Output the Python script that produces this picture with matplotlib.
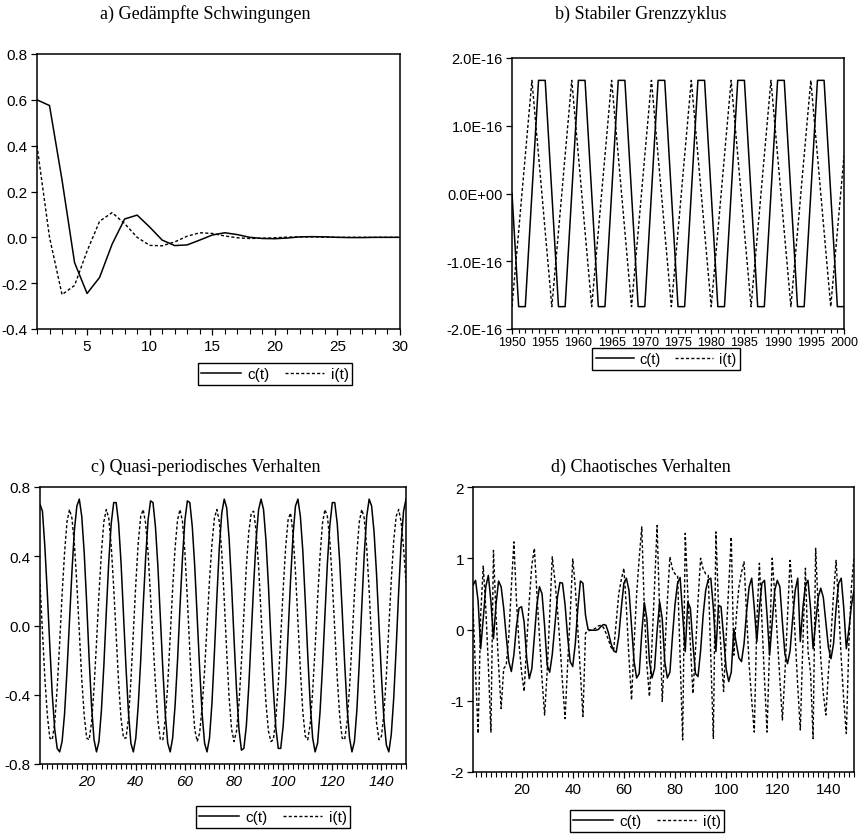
import numpy as np
import matplotlib
matplotlib.use("Agg")
import matplotlib.pyplot as plt
from matplotlib.lines import Line2D
from matplotlib.ticker import FixedLocator, MultipleLocator

plt.rcParams['font.family'] = ['Liberation Sans', 'DejaVu Sans']
plt.rcParams['axes.unicode_minus'] = False

# ---------------- data ----------------
titles = ["a) Gedämpfte Schwingungen", "b) Stabiler Grenzzyklus",
          "c) Quasi-periodisches Verhalten", "d) Chaotisches Verhalten"]
series_names = ["c(t)", "i(t)"]

# a) damped oscillations, t = 1..30
c_a = [0.60, 0.575, 0.25, -0.11, -0.245, -0.175, -0.03, 0.08, 0.097, 0.045,
       -0.012, -0.036, -0.033, -0.012, 0.01, 0.02, 0.012, 0.0, -0.005, -0.006,
       -0.003, 0.002, 0.003, 0.002, 0.0, -0.001, -0.001, 0.0, 0.0, 0.0]
i_a = [0.40, 0.0, -0.25, -0.21, -0.06, 0.07, 0.108, 0.06, 0.0, -0.035,
       -0.037, -0.02, 0.005, 0.02, 0.017, 0.006, -0.002, -0.005, -0.004, -0.002,
       0.001, 0.002, 0.002, 0.001, 0.0, 0.0, 0.0, 0.0, 0.0, 0.0]

# b) stable limit cycle, years 1950..2000, values in units of 1E-16
years_b = list(range(1950, 2001))
c_b_e16 = [0, -1.67, -1.67, 0, 1.67, 1.67, 0, -1.67, -1.67, 0, 1.67, 1.67,
           0, -1.67, -1.67, 0, 1.67, 1.67, 0, -1.67, -1.67, 0, 1.67, 1.67,
           0, -1.67, -1.67, 0, 1.67, 1.67, 0, -1.67, -1.67, 0, 1.67, 1.67,
           0, -1.67, -1.67, 0, 1.67, 1.67, 0, -1.67, -1.67, 0, 1.67, 1.67,
           0, -1.67, -1.67]
i_b_e16 = [-1.67, -0.56, 0.56, 1.67, 0.56, -0.56, -1.67, -0.56, 0.56, 1.67, 0.56, -0.56,
           -1.67, -0.56, 0.56, 1.67, 0.56, -0.56, -1.67, -0.56, 0.56, 1.67, 0.56, -0.56,
           -1.67, -0.56, 0.56, 1.67, 0.56, -0.56, -1.67, -0.56, 0.56, 1.67, 0.56, -0.56,
           -1.67, -0.56, 0.56, 1.67, 0.56, -0.56, -1.67, -0.56, 0.56, 1.67, 0.56, -0.56,
           -1.67, -0.56, 0.56]

# c) quasi-periodic, t = 1..150
c_c = [0.70, 0.66, 0.45, 0.18, -0.12, -0.40, -0.60, -0.71, -0.73,
       -0.67, -0.51, -0.26, 0.03, 0.31, 0.55, 0.69, 0.73, 0.63, 0.42, 0.13, -0.19, -0.47, -0.66, -0.73,
       -0.67, -0.49, -0.23, 0.08, 0.37, 0.59, 0.71, 0.71, 0.59, 0.36, 0.06, -0.24, -0.50, -0.68, -0.73,
       -0.65, -0.46, -0.20, 0.11, 0.39, 0.61, 0.72, 0.71, 0.57, 0.34, 0.05, -0.25, -0.51, -0.68, -0.73,
       -0.65, -0.46, -0.20, 0.11, 0.39, 0.61, 0.72, 0.71, 0.57, 0.34, 0.05, -0.25, -0.51, -0.68, -0.73,
       -0.65, -0.45, -0.16, 0.16, 0.45, 0.65, 0.73, 0.68, 0.50, 0.23, -0.08, -0.37, -0.60, -0.72,
       -0.71, -0.58, -0.35, -0.06, 0.24, 0.50, 0.67, 0.73, 0.67, 0.49, 0.23, -0.08, -0.37, -0.59, -0.71,
       -0.71, -0.58, -0.35, -0.05, 0.26, 0.52, 0.69, 0.73, 0.63, 0.43, 0.14, -0.17, -0.45, -0.65, -0.73,
       -0.68, -0.50, -0.24, 0.06, 0.36, 0.58, 0.71, 0.71, 0.59, 0.37, 0.09, -0.21, -0.47, -0.65, -0.73,
       -0.67, -0.49, -0.21, 0.11, 0.41, 0.63, 0.73, 0.69, 0.54, 0.30, 0.00, -0.29, -0.54, -0.69, -0.73,
       -0.63, -0.42, -0.13, 0.19, 0.47, 0.66, 0.73]
i_c = [0.24, -0.04, -0.31, -0.52, -0.65,
       -0.66, -0.56, -0.36, -0.10, 0.18, 0.42, 0.60, 0.67,
       0.62, 0.47, 0.24, -0.04, -0.31, -0.52, -0.65,
       -0.66, -0.56, -0.36, -0.10, 0.18, 0.42, 0.60, 0.67,
       0.62, 0.46, 0.22, -0.06, -0.33, -0.54, -0.65,
       -0.65, -0.54, -0.32, -0.04, 0.24, 0.48, 0.63,
       0.67, 0.59, 0.42, 0.17, -0.09, -0.34, -0.55, -0.66,
       -0.66, -0.54, -0.34, -0.07, 0.21, 0.45, 0.61, 0.67,
       0.60, 0.42, 0.15, -0.15, -0.42, -0.60, -0.67,
       -0.62, -0.47, -0.26, 0.00, 0.26, 0.47, 0.62, 0.67,
       0.60, 0.42, 0.15, -0.15, -0.42, -0.60, -0.67,
       -0.61, -0.45, -0.21, 0.07, 0.34, 0.54, 0.65,
       0.66, 0.54, 0.34, 0.07, -0.21, -0.45, -0.61, -0.67,
       -0.66, -0.54, -0.34, -0.07, 0.21, 0.45, 0.61,
       0.65, 0.53, 0.31, 0.03, -0.26, -0.50, -0.64,
       -0.66, -0.57, -0.38, -0.13, 0.15, 0.40, 0.59, 0.67,
       0.63, 0.49, 0.25, -0.03, -0.30, -0.52, -0.65,
       -0.66, -0.56, -0.36, -0.10, 0.18, 0.42, 0.60, 0.67,
       0.62, 0.45, 0.20, -0.09, -0.36, -0.56, -0.66,
       -0.64, -0.51, -0.29, -0.01, 0.26, 0.49, 0.63,
       0.67, 0.60, 0.45, 0.25]

# d) chaotic, t = 1..150
c_d = [0.62, 0.69, 0.40, -0.27, 0.15, 0.60, 0.76, 0.40, -0.13, 0.35,
       0.68, 0.60, 0.30, -0.10, -0.45, -0.59, -0.35, 0.05, 0.30, 0.32,
       0.10, -0.40, -0.69, -0.55, -0.10, 0.35, 0.60, 0.50, 0.05, -0.50,
       -0.60, -0.35, 0.05, 0.45, 0.66, 0.65, 0.35, -0.10, -0.45, -0.52,
       -0.20, 0.30, 0.68, 0.65, 0.20, 0.00, -0.01, -0.01, -0.01, 0.00,
       0.04, 0.07, 0.06, -0.05, -0.20, -0.30, -0.32, -0.10, 0.30, 0.65,
       0.72, 0.55, 0.05, -0.45, -0.68, -0.62, -0.05, 0.38, 0.15, -0.45,
       -0.68, -0.55, -0.02, 0.39, 0.15, -0.45, -0.68, -0.60, -0.10, 0.35,
       0.65, 0.73, 0.20, -0.31, 0.39, 0.30, -0.20, -0.62, -0.66, -0.30,
       0.20, 0.55, 0.70, 0.72, 0.30, -0.31, 0.34, 0.32, -0.10, -0.55,
       -0.73, -0.60, 0.01, -0.20, -0.40, -0.45, -0.20, 0.25, 0.60, 0.72,
       0.30, -0.17, 0.30, 0.65, 0.69, 0.20, -0.36, 0.10, 0.55, 0.69,
       0.60, 0.10, -0.35, -0.48, -0.30, 0.15, 0.55, 0.72, -0.17, 0.30,
       0.62, 0.69, 0.30, -0.27, 0.10, 0.45, 0.58, 0.45, 0.10, -0.25,
       -0.41, -0.20, 0.30, 0.65, 0.72, 0.30, -0.27, 0.00, 0.34, 0.55]
i_d = [0.30, -0.60, -1.46, 0.20, 0.89, 0.30, -0.50, -1.44, 1.11, 0.20,
       -0.50, -1.11, -0.55, -0.50, -0.10, 0.60, 1.23, 0.40, -0.20, -0.60,
       -0.87, -0.20, 0.40, 0.90, 1.14, 0.50, -0.10, -0.70, -1.20, -0.60,
       0.20, 1.02, 0.70, 0.30, -0.20, -0.75, -1.25, -0.50, 0.20, 0.99,
       0.60, 0.00, -0.60, -1.22, -0.05, -0.02, -0.01, 0.00, 0.02, 0.05,
       0.06, 0.03, -0.05, -0.15, -0.25, -0.29, 0.10, 0.50, 0.70, 0.86,
       0.30, -0.40, -0.99, -0.20, 0.50, 1.00, 1.44, 0.30, -0.50, -0.94,
       -0.20, 0.60, 1.46, 0.20, -1.01, -0.30, 0.40, 1.02, 0.85, 0.78,
       0.76, -0.40, -1.55, 1.35, 0.50, -0.20, -0.90, -0.30, 0.40, 1.00,
       0.85, 0.78, 0.76, -0.40, -1.53, 1.37, 0.34, -0.30, -0.87, -0.10,
       0.60, 1.30, -0.36, 0.20, 0.60, 0.80, 0.95, 0.20, -0.50, -1.00,
       -1.44, 0.10, 0.93, 0.10, -0.70, -1.44, -0.20, 1.00, 0.50, -0.10,
       -0.70, -1.27, -0.60, 0.20, 0.97, 0.50, -0.10, -0.80, -1.41, -0.20,
       0.86, -0.30, -0.60, -1.53, 1.14, 0.30, -0.40, -0.90, -1.20, -0.60,
       -0.10, 0.50, 0.97, 0.30, -0.40, -1.00, -1.46, -0.20, 0.60, 1.02]

# ---------------- figure ----------------
W, H = 860, 837
fig = plt.figure(figsize=(W / 100, H / 100), dpi=100)
fig.patch.set_facecolor('white')

def add_ax(l, t, r, b):
    return fig.add_axes([l / W, 1 - b / H, (r - l) / W, (b - t) / H])

SOLID = dict(color='black', lw=1.1, linestyle='-')
DOT = dict(color='black', lw=1.0, linestyle=(0, (2.2, 1.6)))
TFS = 11

def style(ax):
    for s in ax.spines.values():
        s.set_linewidth(1.1)
        s.set_color('black')
    ax.tick_params(axis='both', which='major', direction='out', length=4.5,
                   width=0.9, labelsize=TFS, pad=3, colors='black')
    ax.tick_params(axis='both', which='minor', direction='out', length=3.5, width=0.8)
    ax.tick_params(axis='y', which='major', pad=2)

def legend(ax, cx, cy, fs=11):
    handles = [Line2D([], [], **SOLID), Line2D([], [], **DOT)]
    lg = ax.legend(handles, series_names, ncol=2, loc='center',
                   bbox_to_anchor=(cx / W, 1 - cy / H), bbox_transform=fig.transFigure,
                   frameon=True, fancybox=False, framealpha=1, edgecolor='black',
                   fontsize=fs, handlelength=2.6, handletextpad=0.4,
                   columnspacing=1.0, borderpad=0.25, borderaxespad=0)
    lg.get_frame().set_linewidth(1.0)

def title(x, y, s):
    fig.text(x / W, 1 - y / H, s, ha='center', va='center',
             family=['Liberation Serif', 'DejaVu Serif'], fontsize=13)

# a)
ax = add_ax(37, 55, 400, 330)
ax.plot(np.arange(1, len(c_a) + 1), c_a, **SOLID)
ax.plot(np.arange(1, len(i_a) + 1), i_a, **DOT)
ax.set_xlim(1, 30)
ax.set_ylim(-0.4, 0.8)
ax.xaxis.set_major_locator(FixedLocator([5, 10, 15, 20, 25, 30]))
ax.xaxis.set_minor_locator(MultipleLocator(1))
yt = [-0.4, -0.2, 0.0, 0.2, 0.4, 0.6, 0.8]
ax.set_yticks(yt)
ax.set_yticklabels(["%.1f" % v for v in yt])
style(ax)
legend(ax, 275, 375)
title(205, 14, titles[0])

# b)
ax = add_ax(512, 59, 844, 330)
ax.plot(years_b, np.array(c_b_e16) * 1e-16, **SOLID)
ax.plot(years_b, np.array(i_b_e16) * 1e-16, **DOT)
ax.set_xlim(1950, 2000)
ax.set_ylim(-2e-16, 2e-16)
xt = list(range(1950, 2001, 5))
ax.set_xticks(xt)
ax.set_xticklabels([str(v) for v in xt])
ax.xaxis.set_minor_locator(MultipleLocator(1))
ax.set_yticks([-2e-16, -1e-16, 0, 1e-16, 2e-16])
ax.set_yticklabels(["-2.0E-16", "-1.0E-16", "0.0E+00", "1.0E-16", "2.0E-16"])
style(ax)
ax.tick_params(axis='x', which='major', labelsize=9, pad=1.5, length=3.5)
ax.tick_params(axis='x', which='minor', length=3)
ax.tick_params(axis='y', labelsize=10.5)
legend(ax, 666, 360, fs=10.5)
title(641, 14, titles[1])

# c)
ax = add_ax(40, 488, 406, 765)
ax.plot(np.arange(1, len(c_c) + 1), c_c, **SOLID)
ax.plot(np.arange(1, len(i_c) + 1), i_c, **DOT)
ax.set_xlim(1, 150)
ax.set_ylim(-0.8, 0.8)
ax.xaxis.set_major_locator(FixedLocator([20, 40, 60, 80, 100, 120, 140]))
ax.xaxis.set_minor_locator(MultipleLocator(2))
yt = [-0.8, -0.4, 0.0, 0.4, 0.8]
ax.set_yticks(yt)
ax.set_yticklabels(["%.1f" % v for v in yt])
style(ax)
for lab in ax.get_xticklabels():
    lab.set_fontstyle('italic')
legend(ax, 273, 818)
title(206, 467, titles[2])

# d)
ax = add_ax(473, 488, 854, 773)
ax.plot(np.arange(1, len(c_d) + 1), c_d, **SOLID)
ax.plot(np.arange(1, len(i_d) + 1), i_d, **DOT)
ax.set_xlim(1, 150)
ax.set_ylim(-2, 2)
ax.xaxis.set_major_locator(FixedLocator([20, 40, 60, 80, 100, 120, 140]))
ax.xaxis.set_minor_locator(MultipleLocator(2))
ax.set_yticks([-2, -1, 0, 1, 2])
ax.set_yticklabels(["-2", "-1", "0", "1", "2"])
style(ax)
legend(ax, 647, 822)
title(641, 467, titles[3])

fig.savefig("out.png", dpi=100, facecolor='white')
